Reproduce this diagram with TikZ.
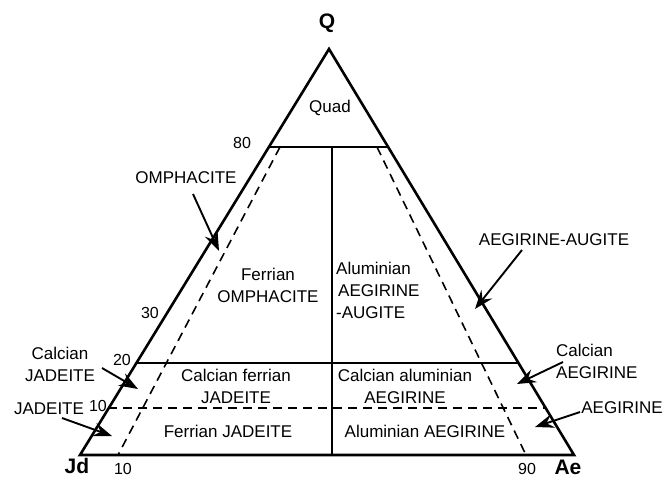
\documentclass[tikz,border=0pt]{standalone}
\usepackage{fontspec}
\setmainfont{Liberation Sans}
\usetikzlibrary{arrows.meta}

\begin{document}
\begin{tikzpicture}[x=1pt,y=-1pt,
    every node/.style={font=\fontsize{17}{22}\selectfont,inner sep=0pt},
    rim/.style={line width=2.6pt,line join=miter},
    divide/.style={line width=1.6pt},
    dashdiv/.style={line width=1.6pt,dash pattern=on 9pt off 6pt},
    pointer/.style={line width=1.9pt,-{Stealth[length=19pt,width=14pt,inset=7pt]}},
    corner/.style={font=\bfseries\fontsize{21}{21}\selectfont},
    num/.style={font=\fontsize{16}{16}\selectfont}
]
\useasboundingbox (0,0) rectangle (667,479);

% corners of the triangle
\coordinate (jd) at (80,455);
\coordinate (ae) at (574,455);
\coordinate (q)  at (329,49);

% ends of the division lines
\coordinate (l80) at (269,147);
\coordinate (r80) at (388,147);
\coordinate (l20) at (136,363);
\coordinate (r20) at (518,363);
\coordinate (l10) at (108,408);
\coordinate (r10) at (546,408);
\coordinate (mtop) at (332,147);
\coordinate (mbot) at (332,455);
\coordinate (ftop) at (280,147);
\coordinate (fbot) at (118,455);
\coordinate (atop) at (377,147);
\coordinate (abot) at (526,455);

\draw[rim] (jd) -- (q) -- (ae) -- cycle;

\path[divide]
    (l80) edge (r80)
    (l20) edge (r20)
    (mtop) edge (mbot);
\path[dashdiv]
    (l10) edge (r10)
    (ftop) edge (fbot)
    (atop) edge (abot);

% apex and axis labels
\node[corner] (qlab)  at (327,23)  {Q};
\node[corner] (jdlab) at (77,466)  {Jd};
\node[corner] (aelab) at (568,467) {Ae};
\node[num] (n80) at (242,143) {80};
\node[num] (n30) at (150,313) {30};
\node[num] (n20) at (122,360) {20};
\node[num] (n10) at (98,406)  {10};
\node[num] (b10) at (123,469) {10};
\node[num] (b90) at (527,469) {90};

% fields
\node (quad)   at (330,108) {Quad};
\node[align=center] (fomph) at (268,285) {Ferrian\\OMPHACITE};
\node[align=left,anchor=west] (aaeg) at (336,290) {Aluminian\\\hspace*{2pt}AEGIRINE\\-AUGITE};
\node[align=center] (cfjad) at (236,386) {Calcian ferrian\\JADEITE};
\node[align=center] (caaeg) at (405,386) {Calcian aluminian\\AEGIRINE};
\node (fjad)  at (228,431) {Ferrian JADEITE};
\node (alaeg) at (425,431) {Aluminian AEGIRINE};

% outside names
\node (omph)   at (186,178) {OMPHACITE};
\node (aegaug) at (554,240) {AEGIRINE-AUGITE};
\node[align=center] (cjad) at (60,364) {Calcian\\JADEITE};
\node (jad)    at (49,409) {JADEITE};
\node[align=left,anchor=west] (caeg) at (556,361) {Calcian\\AEGIRINE};
\node (aeg)    at (622,408) {AEGIRINE};

% pointer ends
\coordinate (omphs) at (193,194);
\coordinate (ompht) at (219,251);
\coordinate (aegs)  at (522,250);
\coordinate (aegt)  at (475,309);
\coordinate (cjads) at (102,368);
\coordinate (cjadt) at (138,389);
\coordinate (jads)  at (62,418);
\coordinate (jadt)  at (112,436);
\coordinate (caegs) at (563,362);
\coordinate (caegt) at (517,384);
\coordinate (aes)   at (580,412);
\coordinate (aet)   at (535,427);

\path[pointer]
    (omphs) edge (ompht)
    (aegs) edge (aegt)
    (cjads) edge (cjadt)
    (jads) edge (jadt)
    (caegs) edge (caegt)
    (aes) edge (aet);
\end{tikzpicture}
\end{document}
